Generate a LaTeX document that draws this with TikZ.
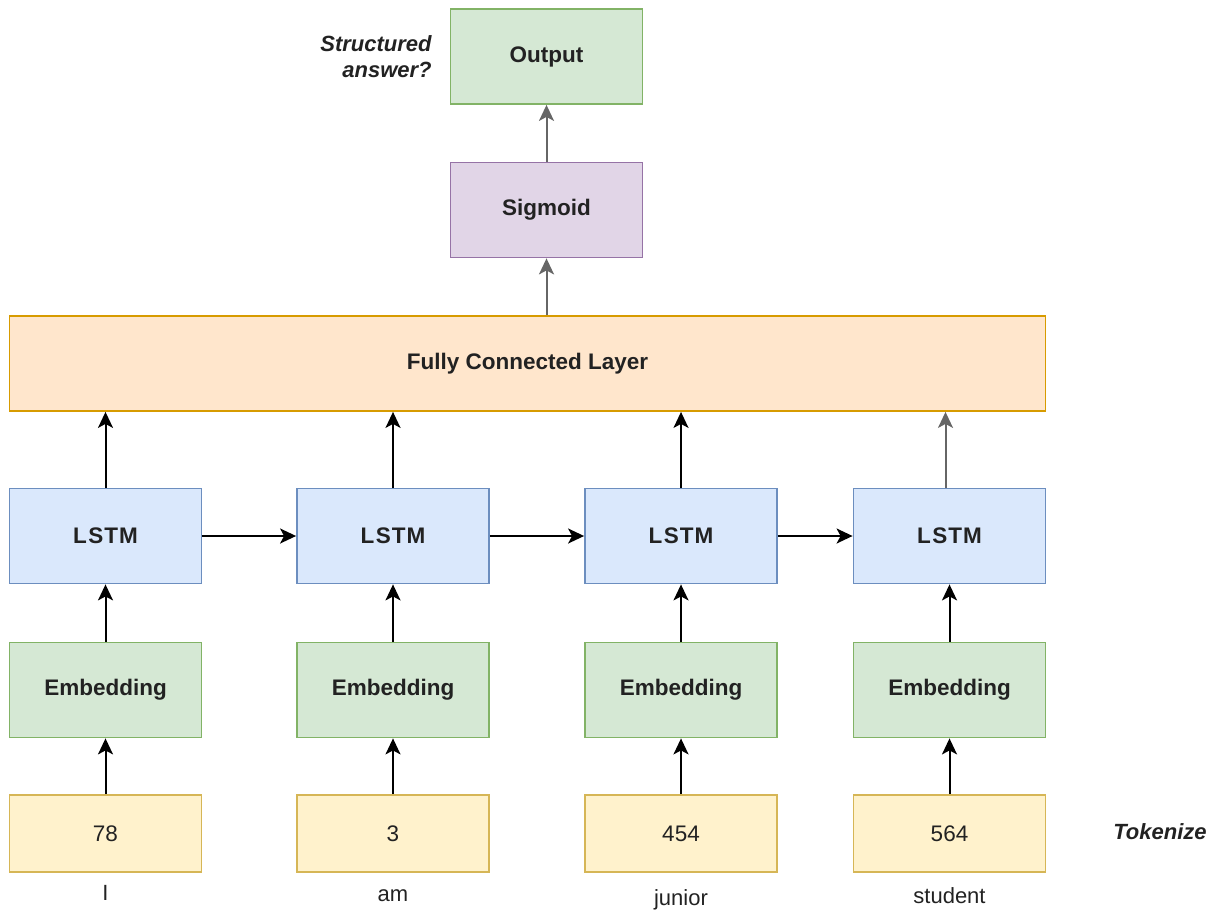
\documentclass[tikz,border=0pt]{standalone}
\usepackage{fontspec}
\setmainfont{Liberation Sans}
\usetikzlibrary{arrows.meta}
\definecolor{gfill}{HTML}{D5E8D4}\definecolor{gdraw}{HTML}{82B366}
\definecolor{pfill}{HTML}{E1D5E7}\definecolor{pdraw}{HTML}{9673A6}
\definecolor{ofill}{HTML}{FFE6CC}\definecolor{odraw}{HTML}{D79B00}
\definecolor{bfill}{HTML}{DAE8FC}\definecolor{bdraw}{HTML}{6C8EBF}
\definecolor{yfill}{HTML}{FFF2CC}\definecolor{ydraw}{HTML}{D6B656}
\definecolor{txt}{HTML}{222222}
\begin{document}
\begin{tikzpicture}[x=1pt,y=-1pt,
  box/.style={draw, line width=1.8pt, minimum width=192pt, minimum height=95pt, inner sep=0pt, font=\fontsize{22.5}{27}\selectfont\bfseries, text=txt},
  gbox/.style={box, fill=gfill, draw=gdraw},
  pbox/.style={box, fill=pfill, draw=pdraw},
  obox/.style={box, fill=ofill, draw=odraw, minimum width=1036pt},
  bbox/.style={box, fill=bfill, draw=bdraw},
  ybox/.style={box, fill=yfill, draw=ydraw, minimum height=77pt, font=\fontsize{22.5}{27}\selectfont},
  word/.style={font=\fontsize{22}{26}\selectfont, text=txt},
  note/.style={font=\fontsize{22}{26}\selectfont\bfseries\itshape, text=txt, align=right},
  arr/.style={-{Stealth[length=16pt,width=15pt,inset=4pt]}, line width=2pt},
  garr/.style={arr, draw=black!60}
]
\useasboundingbox (0,0) rectangle (1222,915);

\node[gbox] (out) at (546.5,56.5) {Output};
\node[pbox] (sig) at (546.5,210) {Sigmoid};
\node[obox] (fc) at (527.5,363.5) {Fully Connected Layer};

\node[note] (sa) at (376,57) {Structured\\answer?};

\foreach \i/\x/\tok/\w/\wy in {1/105.5/78/I/893, 2/393/3/am/896, 3/681/454/junior/900, 4/949.5/564/student/896}{
  \node[bbox] (l\i) at (\x,536) {L\kern1.5pt S\kern1pt T\kern1pt M};
  \node[gbox] (e\i) at (\x,690) {Embedding};
  \node[ybox] (t\i) at (\x,833.5) {\tok};
  \node[word] (w\i) at (\x,\wy) {\w};
  \draw[arr] (t\i) -- (e\i);
  \draw[arr] (e\i) -- (l\i);
}
\node[note] (tk) at (1160,832) {Tokenize};

\draw[arr] (l1) -- (l2);
\draw[arr] (l2) -- (l3);
\draw[arr] (l3) -- (l4);

\draw[arr] (l1.north) -- (l1.north |- fc.south);
\draw[arr] (l2.north) -- (l2.north |- fc.south);
\draw[arr] (l3.north) -- (l3.north |- fc.south);
\draw[garr] ([xshift=-4pt]l4.north) -- ([xshift=-4pt]l4.north |- fc.south);

\draw[garr] (fc.north -| sig.south) -- (sig.south);
\draw[garr] (sig) -- (out);
\end{tikzpicture}
\end{document}
